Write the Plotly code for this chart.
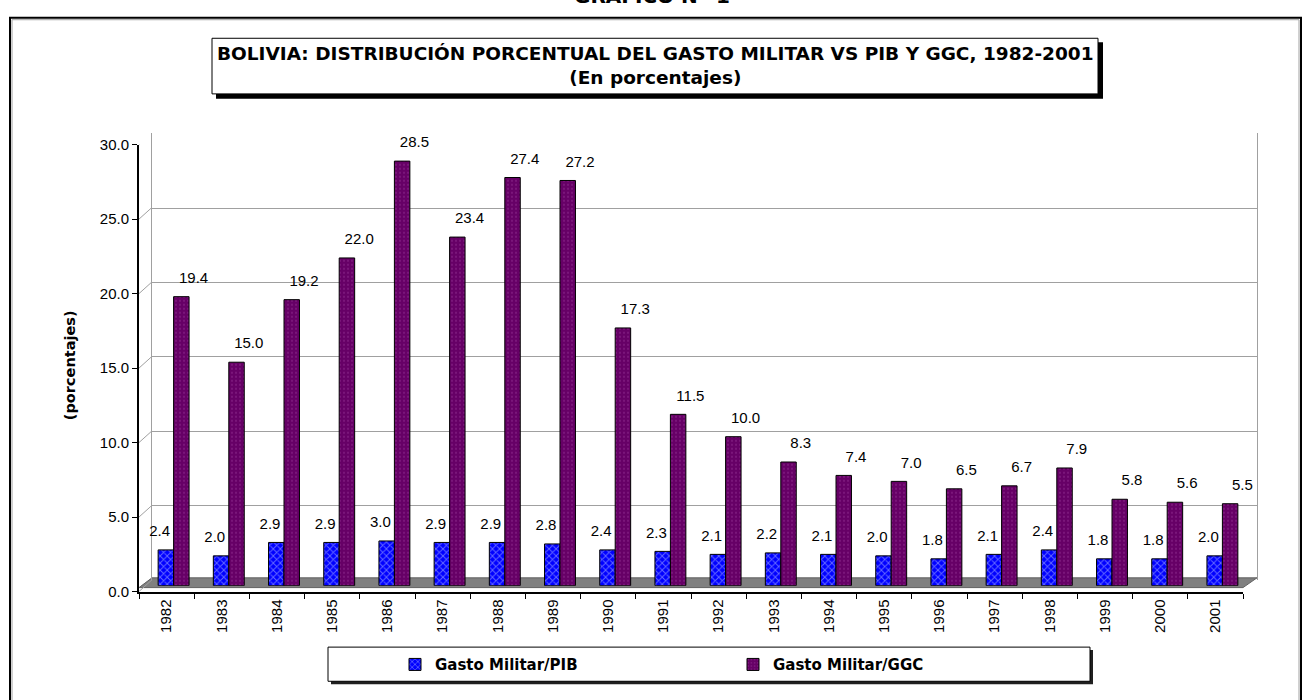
import plotly.graph_objects as go

# Data
years = ['1982', '1983', '1984', '1985', '1986', '1987', '1988', '1989', '1990', '1991',
         '1992', '1993', '1994', '1995', '1996', '1997', '1998', '1999', '2000', '2001']
gasto_pib = [2.4, 2.0, 2.9, 2.9, 3.0, 2.9, 2.9, 2.8, 2.4, 2.3,
             2.1, 2.2, 2.1, 2.0, 1.8, 2.1, 2.4, 1.8, 1.8, 2.0]
gasto_ggc = [19.4, 15.0, 19.2, 22.0, 28.5, 23.4, 27.4, 27.2, 17.3, 11.5,
             10.0, 8.3, 7.4, 7.0, 6.5, 6.7, 7.9, 5.8, 5.6, 5.5]
y_ticks = [0, 5, 10, 15, 20, 25, 30]

W, H = 1303, 700


def px(x):
    return x / W


def py(y):
    return 1 - y / H


FONT = 'Liberation Sans'
BOLD = 'DejaVu Sans'

fig = go.Figure()

# invisible trace to create the back-wall subplot (gridlines)
fig.add_trace(go.Scatter(x=[], y=[], xaxis='x2', yaxis='y2', showlegend=False))
fig.add_trace(go.Scatter(x=years, y=[None] * len(years), xaxis='x', yaxis='y',
                         showlegend=False, hoverinfo='skip'))

# bars
fig.add_trace(go.Bar(
    x=years, y=gasto_pib, name='Gasto Militar/PIB', xaxis='x3', yaxis='y3',
    marker=dict(color='#0000ff', line=dict(color='black', width=1),
                pattern=dict(shape='x', fgcolor='#c8d0ff', bgcolor='#0000ff',
                             size=5, solidity=0.35)),
))
fig.add_trace(go.Bar(
    x=years, y=gasto_ggc, name='Gasto Militar/GGC', xaxis='x3', yaxis='y3',
    marker=dict(color='#660066', line=dict(color='black', width=1),
                pattern=dict(shape='.', fgcolor='#9a3a9a', bgcolor='#660066',
                             size=4, solidity=0.2)),
))

# data labels (blue ones on x4, purple ones on x5)
for vals, xa in ((gasto_pib, 'x4'), (gasto_ggc, 'x5')):
    fig.add_trace(go.Scatter(
        x=years, y=vals, mode='text', text=['%.1f' % v for v in vals],
        textposition='middle center', xaxis=xa, yaxis='y4',
        textfont=dict(family=FONT, size=15, color='black'),
        showlegend=False, hoverinfo='skip', cliponaxis=False,
    ))

shapes = []
# outer frame
shapes.append(dict(type='rect', xref='paper', yref='paper', x0=px(10), x1=px(1301),
                   y0=-0.05, y1=py(9), line=dict(color='black', width=2), layer='above'))
shapes.append(dict(type='rect', xref='paper', yref='paper', x0=px(12), x1=px(1299),
                   y0=-0.05, y1=py(11), line=dict(color='#a0a0a0', width=1), layer='above'))
# title box with shadow
shapes.append(dict(type='rect', xref='paper', yref='paper', x0=px(216), x1=px(1103),
                   y0=py(92), y1=py(34), fillcolor='black', line=dict(width=0), layer='below'))
shapes.append(dict(type='rect', xref='paper', yref='paper', x0=px(212), x1=px(1098),
                   y0=py(87), y1=py(30), fillcolor='white', line=dict(color='black', width=1),
                   layer='below'))
# legend box with shadow
shapes.append(dict(type='rect', xref='paper', yref='paper', x0=px(331), x1=px(1093),
                   y0=py(692), y1=py(657), fillcolor='#202020', line=dict(width=0), layer='below'))
shapes.append(dict(type='rect', xref='paper', yref='paper', x0=px(328), x1=px(1090),
                   y0=py(689), y1=py(654), fillcolor='white', line=dict(color='black', width=1),
                   layer='below'))
# floor of the 3D plot
shapes.append(dict(type='path', xref='paper', yref='paper',
                   path='M %f,%f L %f,%f L %f,%f L %f,%f Z' % (
                       px(139), py(593), px(1243), py(593), px(1257), py(583), px(152), py(583)),
                   fillcolor='#808080', line=dict(color='#606060', width=1), layer='below'))
# connectors between front axis ticks and back wall
for t in y_ticks:
    shapes.append(dict(type='line', xref='paper', yref='y', x0=px(139), x1=px(152),
                       y0=t, y1=t + 12 / 15.27, line=dict(color='#a0a0a0', width=1)))

annotations = [
    dict(text='<b>GRÁFICO Nº 1</b>', xref='paper', yref='paper', x=px(652), y=py(1),
         xanchor='center', yanchor='bottom', showarrow=False,
         font=dict(family=BOLD, size=20, color='black')),
    dict(text='<b>BOLIVIA: DISTRIBUCIÓN PORCENTUAL DEL GASTO MILITAR VS PIB Y GGC, 1982-2001</b>'
              '<br><b>(En porcentajes)</b>',
         xref='paper', yref='paper', x=px(655), y=py(58), xanchor='center', yanchor='middle',
         showarrow=False, align='center',
         font=dict(family=BOLD, size=18.5, color='black')),
    dict(text='<b>(porcentajes)</b>', xref='paper', yref='paper', x=px(70), y=py(365),
         xanchor='center', yanchor='middle', textangle=-90, showarrow=False,
         font=dict(family=BOLD, size=14.5, color='black')),
]

fig.update_layout(
    width=W, height=H, autosize=False,
    margin=dict(l=0, r=0, t=0, b=0),
    paper_bgcolor='white', plot_bgcolor='rgba(0,0,0,0)',
    barmode='group', bargap=0.44, bargroupgap=0,
    scattermode='group', scattergap=0.44,
    font=dict(family=FONT, size=14, color='black'),
    shapes=shapes, annotations=annotations,
    xaxis=dict(domain=[px(139), px(1243)], type='category', categoryarray=years,
               range=[-0.5, 19.5], anchor='y', tickangle=-90, ticks='outside',
               tickson='boundaries', ticklen=5, tickwidth=1, tickcolor='black',
               showline=True, linecolor='black', linewidth=2, showgrid=False,
               tickfont=dict(family=FONT, size=15)),
    yaxis=dict(domain=[py(597), py(139)], range=[0, 30], tickvals=y_ticks,
               tickformat='.1f', anchor='x', ticks='outside', ticklen=5,
               tickcolor='black', showline=True, linecolor='black', linewidth=2,
               showgrid=False, zeroline=False, tickfont=dict(family=FONT, size=15)),
    xaxis2=dict(domain=[px(152), px(1257)], anchor='y2', range=[0, 1],
                showticklabels=False, showgrid=False, zeroline=False, showline=False),
    yaxis2=dict(domain=[py(585), py(127)], range=[0, 30.05], anchor='x2', tickvals=y_ticks,
                showticklabels=False, showgrid=True, gridcolor='#a0a0a0', gridwidth=1,
                zeroline=False, showline=True, mirror=True, linecolor='#a0a0a0', ticks=''),
    xaxis3=dict(domain=[px(146), px(1250)], type='category', categoryarray=years,
                range=[-0.5, 19.5], anchor='y3', visible=False),
    yaxis3=dict(domain=[py(591), py(133)], range=[0, 30], anchor='x3', visible=False),
    xaxis4=dict(domain=[px(132), px(1236)], type='category', categoryarray=years,
                range=[-0.5, 19.5], anchor='y4', visible=False),
    xaxis5=dict(domain=[px(166), px(1270)], type='category', categoryarray=years,
                range=[-0.5, 19.5], anchor='y4', visible=False),
    yaxis4=dict(domain=[py(573), py(115)], range=[0, 30], anchor='x4', visible=False),
    legend=dict(orientation='h', x=px(395), y=py(672), xanchor='left', yanchor='middle',
                bgcolor='rgba(0,0,0,0)', entrywidth=293, entrywidthmode='pixels',
                font=dict(family=BOLD, size=15, color='black', weight='bold'),
                traceorder='normal'),
    showlegend=True,
)

fig.write_html('out.html', config={'responsive': False, 'displayModeBar': False},
               post_script="document.body.style.margin='0';"
                           "document.body.style.overflow='hidden';")
